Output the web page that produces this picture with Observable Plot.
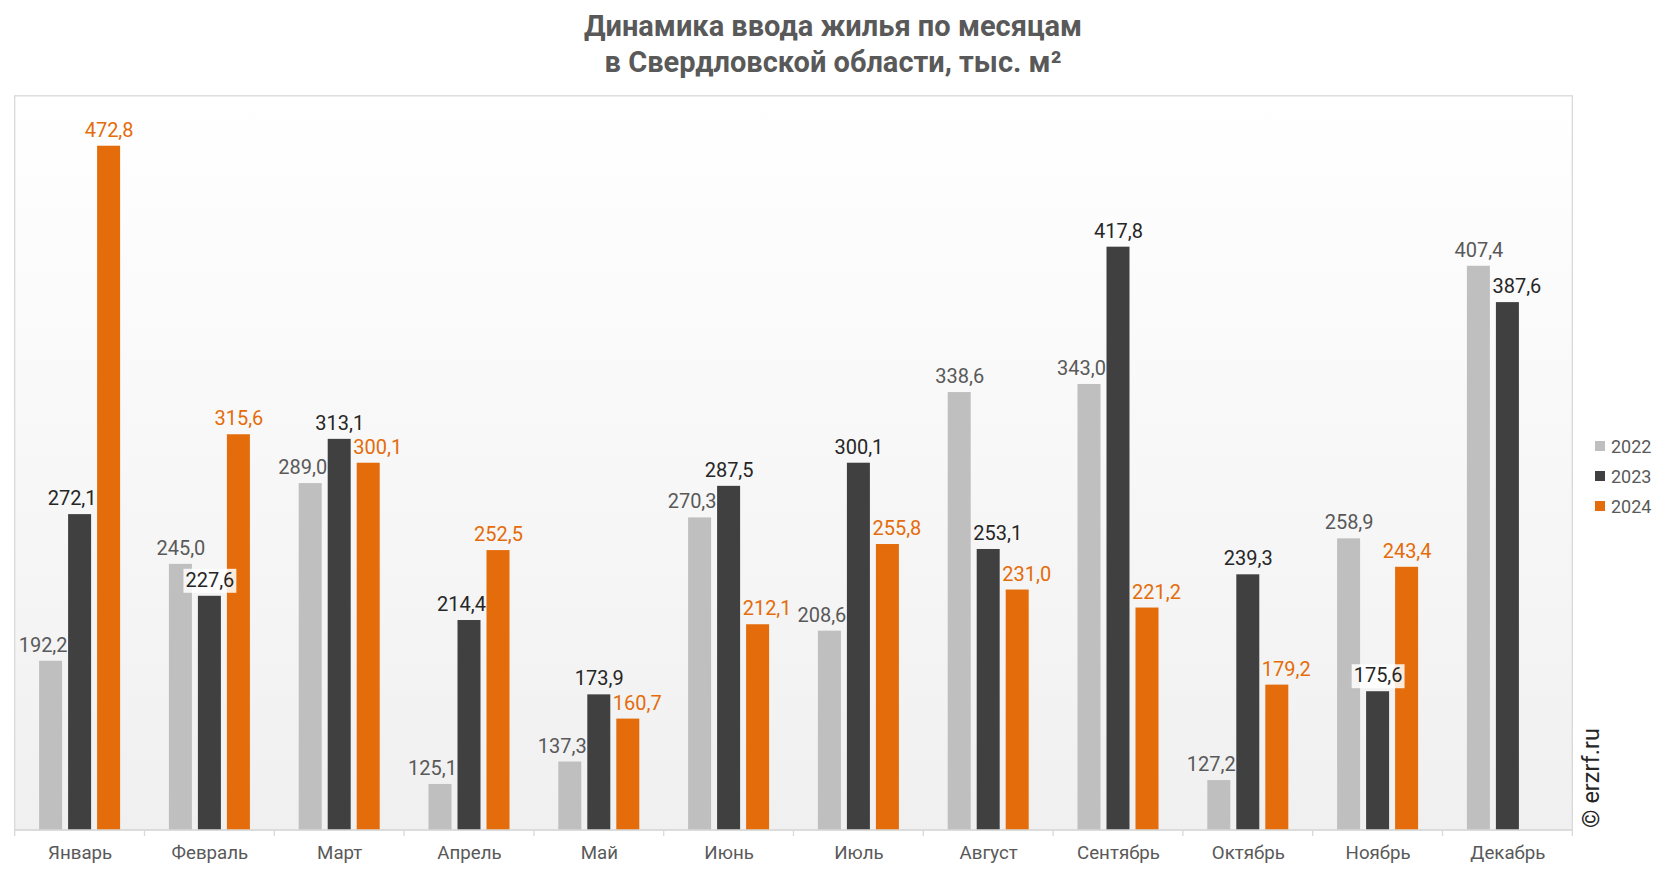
<!DOCTYPE html>
<html><head><meta charset="utf-8">
<script src="https://cdn.jsdelivr.net/npm/d3@7"></script>
<script src="https://cdn.jsdelivr.net/npm/@observablehq/plot@0.6"></script>
<style>
body{margin:0;background:#fff;font-family:Roboto,sans-serif;}
#wrap{position:relative;width:1666px;height:872px;overflow:hidden;background:#fff}
#title{height:90px;box-sizing:border-box;padding-top:8px;text-align:center;font-weight:700;font-size:29px;line-height:36px;color:#595959}
#chart svg{display:block}
#legend{position:absolute;left:1595px;top:431px;font-size:18px;color:#595959}
.li{display:flex;align-items:center;height:30px}
.sw{width:10px;height:10px;margin-right:6px}
#copy{position:absolute;left:1591px;top:778px;transform:translate(-50%,-50%) rotate(-90deg);font-size:23.5px;color:#262626;white-space:nowrap}
</style></head><body>
<div id="wrap">
<div id="title">Динамика ввода жилья по месяцам<br>в Свердловской области, тыс. м²</div>
<div id="chart"></div>
<div id="legend"></div>
<div id="copy">© erzrf.ru</div>
</div>
<script>
const months = ["Январь","Февраль","Март","Апрель","Май","Июнь","Июль","Август","Сентябрь","Октябрь","Ноябрь","Декабрь"];
const years = ["2022","2023","2024"];
const v2022 = [192.2,245.0,289.0,125.1,137.3,270.3,208.6,338.6,343.0,127.2,258.9,407.4];
const v2023 = [272.1,227.6,313.1,214.4,173.9,287.5,300.1,253.1,417.8,239.3,175.6,387.6];
const v2024 = [472.8,315.6,300.1,252.5,160.7,212.1,255.8,231.0,221.2,179.2,243.4,null];
const yDomain = [100, 500];

const barColors = ["#bfbfbf","#404040","#e46c0a"];
const labelColors = ["#595959","#262626","#e46c0a"];

const series = [v2022, v2023, v2024];
const data = [];
months.forEach((m, i) => series.forEach((vals, j) => {
  const v = vals[i];
  if (v == null) return;
  const left = j > 0 ? series[j-1][i] : null;
  const right = j < series.length - 1 ? series[j+1][i] : null;
  const lt = left != null && left > v;
  const rt = right != null && right > v;
  data.push({month: m, year: years[j], value: v, side: lt && rt ? "box" : lt ? "right" : rt ? "left" : "center"});
}));
const fmt = v => v.toFixed(1).replace(".", ",");
const sideDx = {left: -8, right: 9, center: 0, box: 0};

const labelMarks = [];
years.forEach((yr, j) => {
  for (const side of ["left","right","center","box"]) {
    const sub = data.filter(d => d.year === yr && d.side === side);
    if (!sub.length) continue;
    labelMarks.push(Plot.text(sub, {
      fx: "month", x: "year", y: "value", text: d => fmt(d.value),
      fill: labelColors[j], fontSize: 20, lineAnchor: "bottom", dy: -9.5, dx: sideDx[side],
      className: side === "box" ? "boxed" : undefined
    }));
  }
});

const H = 782;
const plot = Plot.plot({
  width: 1666, height: H,
  marginTop: 5.8, marginBottom: 42, marginLeft: 14.7, marginRight: 93.7,
  style: {fontFamily: "Roboto, sans-serif", background: "transparent", overflow: "visible"},
  fx: {domain: months, padding: 0, round: false, label: null},
  x: {domain: years, paddingInner: 0.207, paddingOuter: 0.8415, round: false, axis: null},
  y: {domain: yDomain, axis: null},
  color: {domain: years, range: barColors},
  marks: [
    Plot.axisFx({anchor: "bottom", tickSize: 0, tickPadding: 15, fontSize: 18.7, fill: "#595959", label: null}),
    Plot.barY(data, {fx: "month", x: "year", y1: yDomain[0], y2: "value", fill: "year"}),
    ...labelMarks
  ]
});
document.getElementById("chart").appendChild(plot);

// plot-area background, frame, baseline and category boundary ticks
const svg = d3.select(plot);
const fx = plot.scale("fx"), ys = plot.scale("y");
const x0 = fx.range[0], x1 = fx.range[1];
const yb = ys.range[0], yt = ys.range[1];
const defs = svg.insert("defs", ":first-child");
const g = defs.append("linearGradient").attr("id","bg").attr("x1",0).attr("y1",0).attr("x2",0).attr("y2",1);
g.append("stop").attr("offset","0%").attr("stop-color","#ffffff");
g.append("stop").attr("offset","100%").attr("stop-color","#f0f0f0");
svg.insert("rect", "defs + *").attr("x", x0).attr("y", yt).attr("width", x1 - x0).attr("height", yb - yt)
  .attr("fill", "url(#bg)").attr("stroke", "#d9d9d9").attr("stroke-width", 1.3);
const axisG = svg.append("g").attr("stroke", "#d9d9d9").attr("stroke-width", 1.3);
axisG.append("line").attr("x1", x0).attr("x2", x1).attr("y1", yb).attr("y2", yb);
const bounds = fx.domain.map(m => fx.apply(m)).concat([x1]);
bounds.forEach(b => axisG.append("line").attr("x1", b).attr("x2", b).attr("y1", yb).attr("y2", yb + 6));

// white boxes behind crowded labels
svg.selectAll("g.boxed text").each(function() {
  const bb = this.getBBox();
  const t = this.getAttribute("transform");
  d3.select(this.parentNode).insert("rect", () => this)
    .attr("x", bb.x - 2).attr("y", bb.y + 1).attr("width", bb.width + 4).attr("height", bb.height)
    .attr("transform", t).attr("fill", "#ffffff").attr("fill-opacity", 0.85);
});

// legend
const leg = d3.select("#legend");
years.forEach((yr, j) => {
  const r = leg.append("div").attr("class", "li");
  r.append("div").attr("class", "sw").style("background", barColors[j]);
  r.append("span").text(yr);
});
</script>
</body></html>
